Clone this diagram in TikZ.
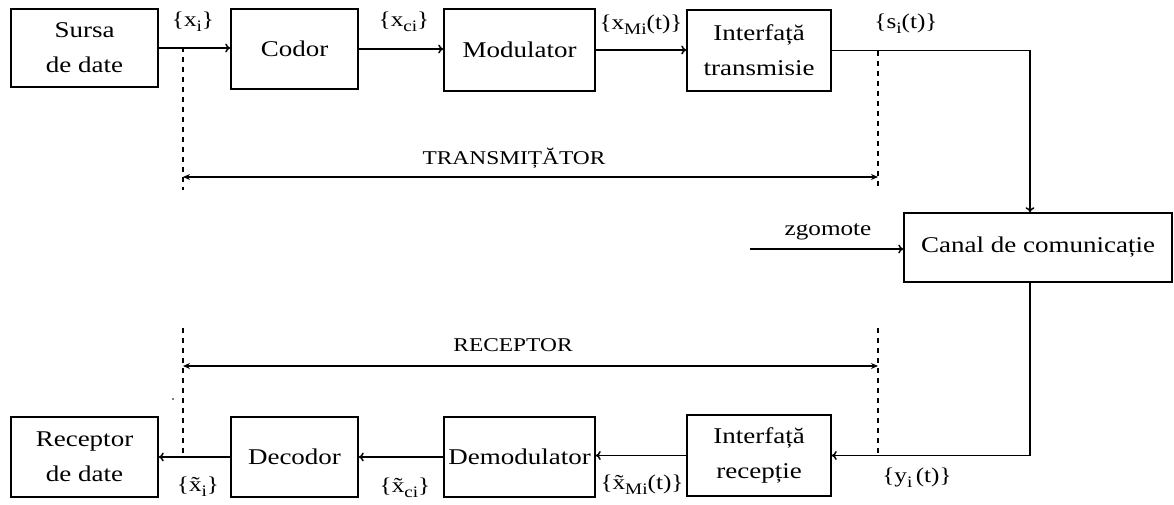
\documentclass[tikz,border=0pt]{standalone}
\usepackage{fontspec}
\setmainfont{Liberation Serif}[FakeStretch=1.2]
\usetikzlibrary{arrows.meta,calc}

% lowered, fairly large subscript used in the signal labels
\newcommand\lowsub[1]{\raisebox{-0.5ex}{\fontsize{16}{16}\selectfont #1}}

\tikzset{
  block/.style={draw, line width=1.5pt, align=center, inner sep=0pt,
    font=\fontsize{22.5}{35}\selectfont},
  flow/.style={line width=1.5pt, -{To[length=5pt,width=9pt]}},
  span/.style={line width=1.5pt, {Stealth[length=7pt,width=6pt]}-{Stealth[length=7pt,width=6pt]}},
  guide/.style={line width=1.2pt, dash pattern=on 5pt off 5pt},
  sig/.style={inner sep=0pt, font=\fontsize{21}{24}\selectfont},
  title/.style={inner sep=0pt, font=\fontsize{19.5}{24}\selectfont},
}

\begin{document}
\begin{tikzpicture}[x=1pt,y=-1pt]
\useasboundingbox (0,0) rectangle (1174,505);

% transmitter chain
\node[block, minimum width=147pt, minimum height=78pt] (src)   at (84.5,48)  {Sursa\\de date};
\node[block, minimum width=127pt, minimum height=80pt] (cod)   at (294.5,49) {Codor};
\node[block, minimum width=151pt, minimum height=82pt] (mod)   at (519.5,50) {Modulator};
\node[block, minimum width=144pt, minimum height=81pt] (itx)   at (759,50.5) {Interfață\\transmisie};

% channel
\node[block, minimum width=268pt, minimum height=69pt] (chan)  at (1038,247.5) {Canal de comunicație};

% receiver chain
\node[block, minimum width=144pt, minimum height=81pt] (irx)   at (759,455.5) {Interfață\\recepție};
\node[block, minimum width=151pt, minimum height=80pt] (demod) at (519.5,457) {Demodulator};
\node[block, minimum width=127pt, minimum height=80pt] (dec)   at (294.5,457) {Decodor};
\node[block, minimum width=147pt, minimum height=80pt] (dst)   at (84.5,457) {Receptor\\de date};

% forward path
\draw[flow] (src.east) -- (src.east -| cod.west);
\draw[flow] (cod.east) -- (cod.east -| mod.west);
\draw[flow] (mod.east) -- (mod.east -| itx.west);
\draw[flow] (itx.east) -| ($(chan.north)+(-8,0)$);
\draw[flow] ($(chan.south)+(-8,0)$) |- (irx.east);
\draw[flow] (irx.west) -- (irx.west -| demod.east);
\draw[flow] (demod.west) -- (demod.west -| dec.east);
\draw[flow] (dec.west) -- (dec.west -| dst.east);

% noise input
\coordinate (noise) at (750,249);
\draw[flow] (noise) -- (noise -| chan.west);
\node[sig] (zg) at (828,232) {zgomote};

% signal labels
\node[sig] (lx)   at (193,22)  {\{x\lowsub{i}\}};
\node[sig] (lxc)  at (404,22)  {\{x\lowsub{ci}\}};
\node[sig] (lxm)  at (641,25)  {\{x\lowsub{Mi}(t)\}};
\node[sig] (ls)   at (906,24)  {\{s\lowsub{i}(t)\}};
\node[sig] (ly)   at (917,478) {\{y\lowsub{i}\,(t)\}};
\node[sig] (lxmr) at (642,485) {\{\~{x}\lowsub{Mi}(t)\}};
\node[sig] (lxcr) at (405,488) {\{\~{x}\lowsub{ci}\}};
\node[sig] (lxr)  at (198,487) {\{\~{x}\lowsub{i}\}};

% transmitter extent
\coordinate (ta) at (183,47);
\coordinate (tb) at (183,190);
\coordinate (tc) at (878,51);
\coordinate (td) at (878,190);
\draw[guide] (ta) -- (tb);
\draw[guide] (tc) -- (td);
\draw[span] (183,177) -- (878,177);
\node[title] (tx) at (514,158) {TRANSMIȚĂTOR};

% receiver extent
\coordinate (ra) at (183,328);
\coordinate (rb) at (183,457);
\coordinate (rc) at (878,328);
\coordinate (rd) at (878,455);
\draw[guide] (ra) -- (rb);
\draw[guide] (rc) -- (rd);
\draw[span] (183,366) -- (878,366);
\node[title] (rx) at (513,345) {RECEPTOR};

\fill (173,399) circle (0.8pt);
\end{tikzpicture}
\end{document}
